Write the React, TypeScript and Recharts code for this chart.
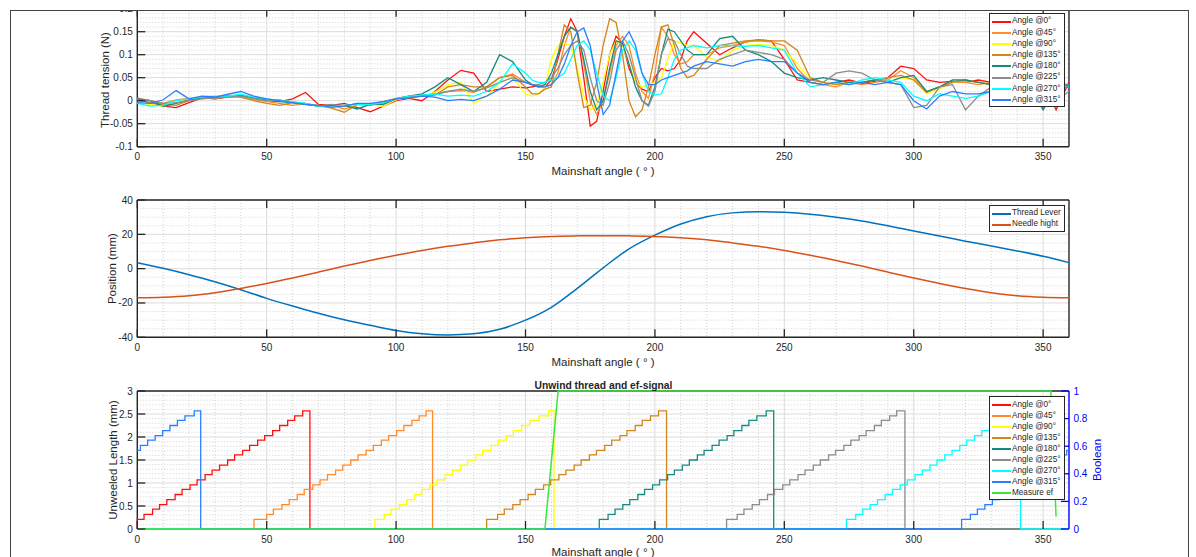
import { LineChart, Line, XAxis, YAxis, CartesianGrid } from "recharts";

const FONT = '"Liberation Sans", Arial, Helvetica, sans-serif';
const INK = "#262626";
const TICK = 8;

// shared x axis
const X_TICKS = [0, 50, 100, 150, 200, 250, 300, 350];
const X_MINOR = [10, 20, 30, 40, 60, 70, 80, 90, 110, 120, 130, 140, 160, 170, 180, 190, 210, 220, 230, 240, 260, 270, 280, 290, 310, 320, 330, 340];

// ---- plot 1: thread tension ----
const T_TICKS = [-0.1, -0.05, 0, 0.05, 0.1, 0.15, 0.2];
const T_MINOR = [-0.09, -0.08, -0.07, -0.06, -0.04, -0.03, -0.02, -0.01, 0.01, 0.02, 0.03, 0.04, 0.06, 0.07, 0.08, 0.09, 0.11, 0.12, 0.13, 0.14, 0.16, 0.17, 0.18, 0.19];

const ANGLES = [
  0, 5, 10, 15, 20, 25, 30, 35, 40, 45, 50, 55, 60, 65, 70, 75, 80, 85, 90, 95, 100, 105, 110, 115, 120, 125, 130, 135, 140, 145, 150,
  152.5, 155, 157.5, 160, 162.5, 165, 167.5, 170, 172.5, 175, 177.5, 180, 182.5, 185, 187.5, 190, 192.5, 195, 197.5, 200, 202.5, 205, 207.5, 210, 212.5, 215,
  220, 225, 230, 235, 240, 245, 250, 255, 260, 265, 270, 275, 280, 285, 290, 295, 300, 305, 310, 315, 320, 325, 330, 335, 340, 345, 350, 355, 360,
];

const TENSION_0 = [
  0.002, -0.004, -0.012, -0.015, -0.004, 0.006, 0.004, 0.008, 0.01, 0.005, 0, -0.002, 0.004, 0.018, -0.008, -0.01, -0.006, -0.015, -0.024, -0.012, 0, 0.005, 0, 0.02, 0.045, 0.066, 0.06, 0.02, 0.025, 0.03, 0.028,
  0.03, 0.032, 0.03, 0.045, 0.09, 0.14, 0.178, 0.15, 0.05, -0.055, -0.045, 0.02, 0.1, 0.14, 0.125, 0.07, 0.04, 0.025, 0.02, 0.05, 0.07, 0.065, 0.07, 0.09, 0.13, 0.15,
  0.125, 0.1, 0.115, 0.128, 0.132, 0.13, 0.09, 0.045, 0.04, 0.035, 0.04, 0.045, 0.038, 0.042, 0.05, 0.075, 0.07, 0.045, 0.04, 0.042, 0.04, 0.045, 0.04, 0.045, 0.05, 0.04, 0.045, -0.02, 0.04,
];
const TENSION_45 = [
  0.004, 0, -0.006, 0.002, 0.005, 0.008, 0.004, 0.01, 0.008, 0.003, -0.002, -0.006, -0.01, -0.006, -0.012, -0.01, -0.018, -0.01, -0.008, -0.004, 0.004, 0.006, 0.01, 0.015, 0.02, 0.022, 0.018, 0.03, 0.05, 0.058, 0.04,
  0.035, 0.03, 0.03, 0.035, 0.06, 0.12, 0.16, 0.15, 0.08, 0, -0.03, 0, 0.06, 0.12, 0.14, 0.12, 0.06, 0.02, 0.005, 0.06, 0.16, 0.14, 0.1, 0.08, 0.085, 0.1,
  0.1, 0.115, 0.12, 0.128, 0.13, 0.128, 0.12, 0.07, 0.04, 0.035, 0.03, 0.04, 0.035, 0.04, 0.045, 0.065, 0.05, 0.02, 0.03, 0.04, 0.04, 0.035, 0.04, 0.035, 0.04, 0.035, 0.03, 0.04, 0.035,
];
const TENSION_90 = [
  -0.004, -0.008, -0.012, -0.006, 0.004, 0.008, 0.006, 0.012, 0.01, 0.004, 0.002, 0, -0.004, -0.008, -0.01, -0.014, -0.012, -0.01, -0.008, -0.012, 0.002, 0.008, 0.01, 0.018, 0.035, 0.04, -0.006, 0.01, 0.04, 0.05, 0.015,
  0.01, 0.015, 0.03, 0.09, 0.12, 0.125, 0.12, 0.07, 0.01, -0.02, -0.01, 0.04, 0.1, 0.13, 0.12, 0.08, 0.04, 0.03, 0.035, 0.04, 0.05, 0.09, 0.13, 0.125, 0.12, 0.12,
  0.095, 0.085, 0.11, 0.12, 0.122, 0.12, 0.11, 0.08, 0.045, 0.04, 0.035, 0.04, 0.04, 0.045, 0.04, 0.05, 0.045, 0.015, 0.025, 0.04, 0.045, 0.04, 0.035, 0.04, 0.035, 0.03, 0.035, 0.03, 0.035,
];
const TENSION_135 = [
  0, -0.004, -0.008, -0.01, 0, 0.006, 0.005, 0.01, 0.008, 0, -0.006, -0.01, -0.004, -0.008, -0.01, -0.016, -0.025, -0.008, -0.008, -0.002, 0.005, 0.01, 0.01, 0.012, 0.03, 0.035, 0.03, 0.03, 0.05, 0.055, 0.03,
  0.015, 0.015, 0.025, 0.03, 0.1, 0.165, 0.15, 0.06, -0.015, -0.01, 0.04, 0.12, 0.178, 0.17, 0.1, 0, -0.035, -0.02, 0.03, 0.1, 0.16, 0.165, 0.12, 0.07, 0.05, 0.055,
  0.09, 0.12, 0.125, 0.13, 0.132, 0.13, 0.13, 0.11, 0.05, 0.04, 0.035, 0.04, 0.04, 0.045, 0.05, 0.055, 0.045, 0.018, 0.03, 0.04, 0.045, 0.04, 0.035, 0.04, 0.03, 0.035, 0.04, 0.03, 0.035,
];
const TENSION_180 = [
  0.004, 0, -0.012, -0.006, 0.002, 0.006, 0.008, 0.01, 0.012, 0.006, 0.002, -0.002, -0.004, -0.008, -0.012, -0.01, -0.01, -0.018, -0.008, -0.008, 0.004, 0.01, 0.015, 0.03, 0.05, 0.035, 0.02, 0.04, 0.1, 0.085, 0.045,
  0.035, 0.03, 0.035, 0.06, 0.1, 0.14, 0.16, 0.15, 0.09, 0.02, -0.02, 0, 0.07, 0.13, 0.125, 0.08, 0.03, 0, -0.01, 0.03, 0.1, 0.155, 0.15, 0.13, 0.11, 0.1,
  0.1, 0.135, 0.14, 0.11, 0.1, 0.085, 0.06, 0.05, 0.045, 0.05, 0.045, 0.04, 0.04, 0.045, 0.04, 0.05, 0.055, 0.02, 0.03, 0.045, 0.045, 0.04, 0.035, 0.04, 0.035, 0.03, -0.02, 0.03, 0.035,
];
const TENSION_225 = [
  0.006, 0, -0.006, -0.004, 0, 0.004, 0.006, 0.008, 0.01, 0.004, 0, 0.002, -0.004, -0.006, -0.012, -0.008, -0.012, -0.006, -0.01, -0.004, 0.004, 0.008, 0.012, 0.014, 0.02, 0.025, 0.02, 0.028, 0.04, 0.05, 0.04,
  0.035, 0.035, 0.04, 0.05, 0.07, 0.1, 0.12, 0.13, 0.11, 0.05, 0, -0.01, 0.04, 0.11, 0.13, 0.1, 0.05, 0, -0.012, 0.02, 0.1, 0.135, 0.13, 0.1, 0.075, 0.07,
  0.07, 0.09, 0.1, 0.11, 0.105, 0.1, 0.09, 0.06, 0.045, 0.04, 0.06, 0.065, 0.06, 0.045, 0.04, 0.035, -0.015, -0.01, 0.03, 0.035, -0.02, 0.01, 0.03, 0.03, 0.025, 0.02, 0.03, 0, 0.02,
];
const TENSION_270 = [
  -0.006, -0.012, -0.01, 0, 0.004, 0.008, 0.01, 0.01, 0.014, 0.008, 0.004, 0, -0.002, -0.006, -0.012, -0.014, -0.01, -0.008, -0.008, -0.004, 0.004, 0.01, 0.012, 0.015, 0.01, 0.012, 0.01, 0.02, 0.04, 0.08, 0.06,
  0.045, 0.04, 0.04, 0.045, 0.05, 0.06, 0.09, 0.12, 0.13, 0.11, 0.06, 0.01, 0, 0.05, 0.11, 0.13, 0.11, 0.06, 0.02, 0.012, 0.015, 0.05, 0.09, 0.11, 0.115, 0.12,
  0.115, 0.12, 0.12, 0.118, 0.12, 0.115, 0.11, 0.06, 0.03, 0.035, 0.04, 0.035, 0.045, 0.05, 0.045, 0.04, 0.01, 0, 0.015, 0.01, 0.005, 0.01, 0.02, 0.025, 0.03, 0.025, 0.03, 0.025, 0.03,
];
const TENSION_315 = [
  -0.004, -0.006, 0.002, 0.022, 0.004, 0.01, 0.008, 0.014, 0.02, 0.01, 0.004, 0, -0.004, -0.008, -0.01, -0.014, -0.012, -0.006, -0.006, -0.002, 0.004, 0.006, 0.01, 0.008, 0, 0.003, 0, 0.01, 0.025, 0.045, 0.04,
  0.035, 0.03, 0.03, 0.035, 0.05, 0.08, 0.12, 0.15, 0.158, 0.12, 0.04, -0.03, -0.01, 0.06, 0.13, 0.15, 0.12, 0.06, 0.035, 0.035, 0.045, 0.05, 0.055, 0.06, 0.065, 0.075,
  0.085, 0.08, 0.075, 0.085, 0.09, 0.085, 0.085, 0.06, 0.04, 0.035, 0.04, 0.035, 0.04, 0.035, 0.04, 0.035, 0, -0.018, 0.01, 0.02, 0.015, 0.015, 0.02, 0.025, 0.02, 0.03, -0.015, 0.025, 0.03,
];

const ANGLE_SERIES = [
  { key: "s0", name: "Angle @0°", color: "#FF1010", values: TENSION_0 },
  { key: "s45", name: "Angle @45°", color: "#FF8C2A", values: TENSION_45 },
  { key: "s90", name: "Angle @90°", color: "#FFFF00", values: TENSION_90 },
  { key: "s135", name: "Angle @135°", color: "#D0871C", values: TENSION_135 },
  { key: "s180", name: "Angle @180°", color: "#168A80", values: TENSION_180 },
  { key: "s225", name: "Angle @225°", color: "#8C8C8C", values: TENSION_225 },
  { key: "s270", name: "Angle @270°", color: "#00FFFF", values: TENSION_270 },
  { key: "s315", name: "Angle @315°", color: "#2A7FFF", values: TENSION_315 },
];

// ---- plot 2: position ----
const P_TICKS = [-40, -20, 0, 20, 40];
const P_MINOR = [-35, -30, -25, -15, -10, -5, 5, 10, 15, 25, 30, 35];
const POS_ANGLES = [0, 10, 20, 30, 40, 50, 60, 70, 80, 90, 100, 110, 120, 130, 140, 150, 160, 170, 180, 190, 200, 210, 220, 230, 240, 250, 260, 270, 280, 290, 300, 310, 320, 330, 340, 350, 360];
const THREAD_LEVER = [3.5, 0.2, -3.5, -7.6, -12.3, -17.3, -21.8, -26, -29.8, -33, -36, -37.9, -38.6, -38, -35.3, -30, -22.5, -11.5, 0.5, 11.5, 19.5, 26, 30.3, 32.5, 33.2, 32.8, 31.7, 30, 27.8, 25, 21.9, 19, 16, 13.2, 10.3, 7.2, 3.5];
const NEEDLE_HIGHT = [-17, -16.7, -15.8, -14, -11.5, -8.6, -5.4, -2, 1.5, 4.8, 7.8, 10.6, 13, 15, 16.8, 18, 18.8, 19.1, 19.2, 19.1, 18.8, 18, 16.8, 15, 13, 10.6, 7.8, 4.8, 1.5, -2, -5.4, -8.6, -11.5, -14, -15.8, -16.7, -17];

// ---- plot 3: unwind thread ----
const U_TICKS = [0, 0.5, 1, 1.5, 2, 2.5, 3];
const U_MINOR = [0.1, 0.2, 0.3, 0.4, 0.6, 0.7, 0.8, 0.9, 1.1, 1.2, 1.3, 1.4, 1.6, 1.7, 1.8, 1.9, 2.1, 2.2, 2.3, 2.4, 2.6, 2.7, 2.8, 2.9];
const B_TICKS = [0, 0.2, 0.4, 0.6, 0.8, 1];

const LEVELS = [0.21, 0.32, 0.43, 0.53, 0.64, 0.75, 0.86, 0.96, 1.07, 1.18, 1.28, 1.39, 1.5, 1.61, 1.71, 1.82, 1.93, 2.03, 2.14, 2.25, 2.36, 2.46, 2.57];

const STEPS_0 = [0, 2.6, 5.9, 8.6, 11.4, 14.6, 17.3, 20.4, 23.1, 26.2, 28.9, 31.8, 34.9, 37.6, 40.7, 43.4, 46.5, 49.2, 52.3, 55.0, 58.1, 60.8, 63.9];
const STEPS_45 = [45.1, 50.0, 52.6, 55.9, 58.7, 61.8, 64.5, 67.8, 70.6, 73.5, 76.6, 79.4, 82.5, 85.3, 88.4, 91.2, 94.3, 97.1, 100.2, 103.0, 106.1, 108.9, 111.6];
const STEPS_90 = [91.8, 95.4, 98.0, 101.3, 104.1, 107.2, 109.9, 113.1, 115.8, 119.0, 121.7, 124.9, 127.6, 130.8, 133.5, 136.7, 139.4, 142.6, 145.3, 148.5, 151.6, 155.2, 158.9];
const STEPS_135 = [135.0, 139.2, 141.8, 145.1, 147.9, 151.0, 153.8, 157.0, 159.7, 162.9, 165.6, 168.8, 171.5, 174.7, 177.4, 180.6, 183.3, 186.5, 189.2, 192.4, 195.1, 198.3, 201.4];
const STEPS_180 = [178.5, 181.9, 184.6, 187.6, 190.3, 193.4, 196.0, 199.1, 201.8, 204.9, 207.5, 210.6, 213.3, 216.4, 219.0, 222.1, 224.8, 227.9, 230.5, 233.6, 236.3, 239.4, 243.0];
const STEPS_225 = [227.7, 231.8, 234.4, 237.6, 240.4, 243.5, 246.2, 249.4, 252.1, 255.3, 258.0, 261.2, 263.9, 267.1, 269.8, 273.0, 275.7, 278.9, 281.6, 284.8, 287.5, 290.7, 293.4];
const STEPS_270 = [274.0, 277.6, 280.3, 283.2, 286.0, 289.0, 291.8, 294.8, 297.5, 300.5, 303.3, 306.3, 309.0, 312.0, 314.8, 317.8, 320.5, 323.5, 326.3, 329.3, 332.0, 335.0, 338.2];
// 315 wraps round 360: tail holds levels 0..14, head levels 15..22
const STEPS_315_TAIL = [318.5, 321.9, 324.6, 327.5, 330.4, 333.3, 336.1, 339.0, 341.9, 344.7, 347.6, 350.5, 353.3, 356.2, 359.1];
const STEPS_315_HEAD = [1.2, 4.0, 6.9, 9.8, 12.6, 15.5, 18.4, 22.0];
const DROPS = { s0: 66.7, s45: 114.1, s90: 161.0, s135: 204.5, s180: 245.9, s225: 296.6, s270: 341.3, s315: 24.5 };

const EF_ANGLES = [0, 157.5, 162.6, 353, 355];
const EF_VALUES = [0, 0, 1, 1, 0.09];

type Pt = { a: number; v: number };

function ramp(steps: number[], drop: number): Pt[] {
  return [
    { a: 0, v: 0 },
    ...steps.map((a, i) => ({ a, v: LEVELS[i] })),
    { a: drop, v: 0 },
    { a: 360, v: 0 },
  ];
}

function wrappedRamp(): Pt[] {
  const n = STEPS_315_TAIL.length;
  return [
    { a: 0, v: LEVELS[n - 1] },
    ...STEPS_315_HEAD.map((a, i) => ({ a, v: LEVELS[n + i] })),
    { a: DROPS.s315, v: 0 },
    ...STEPS_315_TAIL.map((a, i) => ({ a, v: LEVELS[i] })),
    { a: 360, v: LEVELS[n - 1] },
  ];
}

const UNWIND: Record<string, Pt[]> = {
  s0: ramp(STEPS_0, DROPS.s0),
  s45: ramp(STEPS_45, DROPS.s45),
  s90: ramp(STEPS_90, DROPS.s90),
  s135: ramp(STEPS_135, DROPS.s135),
  s180: ramp(STEPS_180, DROPS.s180),
  s225: ramp(STEPS_225, DROPS.s225),
  s270: ramp(STEPS_270, DROPS.s270),
  s315: wrappedRamp(),
};

const tensionRows = ANGLES.map((a, i) => {
  const row: Record<string, number> = { a };
  ANGLE_SERIES.forEach((s) => (row[s.key] = s.values[i]));
  return row;
});
const positionRows = POS_ANGLES.map((a, i) => ({ a, lever: THREAD_LEVER[i], needle: NEEDLE_HIGHT[i] }));
const efRows = EF_ANGLES.map((a, i) => ({ a, v: EF_VALUES[i] }));

// ---- ticks (inward, MATLAB style) ----
const bottomTick = (p: any) => (
  <g>
    <line x1={p.x} y1={p.y} x2={p.x} y2={p.y - TICK} stroke={INK} strokeWidth={1.3} />
    <text x={p.x} y={p.y + 13.5} textAnchor="middle" fontSize={10} fill={INK}>
      {p.payload.value}
    </text>
  </g>
);
const topTick = (p: any) => <line x1={p.x} y1={p.y} x2={p.x} y2={p.y + TICK} stroke={INK} strokeWidth={1.3} />;
const leftTick = (p: any) => (
  <g>
    <line x1={p.x} y1={p.y} x2={p.x + TICK} y2={p.y} stroke={INK} strokeWidth={1.3} />
    <text x={p.x - 4.5} y={p.y + 3.5} textAnchor="end" fontSize={10} fill={INK}>
      {p.payload.value}
    </text>
  </g>
);
const rightTick = (color: string, withLabel: boolean) => (p: any) => (
  <g>
    <line x1={p.x} y1={p.y} x2={p.x - TICK} y2={p.y} stroke={color} strokeWidth={1.3} />
    {withLabel && (
      <text x={p.x + 4.5} y={p.y + 3.5} textAnchor="start" fontSize={10} fill={color}>
        {p.payload.value}
      </text>
    )}
  </g>
);

const axisLine = (color: string) => ({ stroke: color, strokeWidth: 1.4 });

// axes get a 1px band (an axis with zero size is not drawn); margins are reduced to match
function Frame({ yTicks, yMinor, yDomain, rightColor, rightTicks, rightDomain, rightLabels }: any) {
  return [
    <CartesianGrid key="gmin" xAxisId="b" yAxisId="l" verticalValues={X_MINOR} horizontalValues={yMinor} stroke="#C6C6C6" strokeWidth={0.8} strokeDasharray="1 2" />,
    <CartesianGrid key="gmaj" xAxisId="b" yAxisId="l" verticalValues={X_TICKS} horizontalValues={yTicks} stroke="#DCDCDC" strokeWidth={1} />,
    <XAxis key="xb" xAxisId="b" type="number" dataKey="a" domain={[0, 360]} ticks={X_TICKS} interval={0} height={1} tickSize={0} tickMargin={0} tickLine={false} axisLine={axisLine(INK)} tick={bottomTick} />,
    <XAxis key="xt" xAxisId="t" orientation="top" type="number" dataKey="a" domain={[0, 360]} ticks={X_TICKS} interval={0} height={1} tickSize={0} tickMargin={0} tickLine={false} axisLine={axisLine(INK)} tick={topTick} />,
    <YAxis key="yl" yAxisId="l" type="number" domain={yDomain} ticks={yTicks} interval={0} width={1} tickSize={0} tickMargin={0} tickLine={false} axisLine={axisLine(INK)} tick={leftTick} />,
    <YAxis key="yr" yAxisId="r" orientation="right" type="number" domain={rightDomain} ticks={rightTicks} interval={0} width={1} tickSize={0} tickMargin={0} tickLine={false} axisLine={axisLine(rightColor)} tick={rightTick(rightColor, rightLabels)} />,
  ];
}

function LegendBox({ left, top, padTop, rowH, items }: { left: number; top: number; padTop: number; rowH: number; items: { name: string; color: string }[] }) {
  return (
    <div
      style={{
        position: "absolute",
        left,
        top,
        width: 76,
        boxSizing: "border-box",
        border: `1px solid ${INK}`,
        background: "#fff",
        paddingTop: padTop,
        paddingBottom: 0.5,
        zIndex: 3,
      }}
    >
      {items.map((it) => (
        <div key={it.name} style={{ height: rowH, display: "flex", alignItems: "center" }}>
          <div style={{ width: 19, height: 2, background: it.color, marginLeft: 2, marginRight: 1, flex: "none" }} />
          <span style={{ fontSize: 8.2, lineHeight: 1, color: INK, whiteSpace: "nowrap" }}>{it.name}</span>
        </div>
      ))}
    </div>
  );
}

const X_TITLE = "Mainshaft angle ( ° )";

export default function App() {
  const left = 137.3 - 1;
  const right = 1196 - 1069 - 1;
  return (
    <div style={{ position: "fixed", left: 0, top: 0, width: 1196, height: 557, overflow: "hidden", background: "#fff", fontFamily: FONT }}>
      {/* plot 1 */}
      <div style={{ position: "absolute", left: 0, top: 0, zIndex: 1 }}>
        <LineChart width={1196} height={185} data={tensionRows} margin={{ top: 8.7 - 1, right, bottom: 38.3 - 1, left }}>
          {Frame({ yTicks: T_TICKS, yMinor: T_MINOR, yDomain: [-0.1, 0.2], rightColor: INK, rightTicks: T_TICKS, rightDomain: [-0.1, 0.2], rightLabels: false })}
          {ANGLE_SERIES.map((s) => (
            <Line key={s.key} xAxisId="b" yAxisId="l" type="linear" dataKey={s.key} stroke={s.color} strokeWidth={1.3} dot={false} isAnimationActive={false} zIndex={600} />
          ))}
        </LineChart>
      </div>

      {/* plot 2 */}
      <div style={{ position: "absolute", left: 0, top: 185, zIndex: 1 }}>
        <LineChart width={1196} height={190} data={positionRows} margin={{ top: 15 - 1, right, bottom: 37.7 - 1, left }}>
          {Frame({ yTicks: P_TICKS, yMinor: P_MINOR, yDomain: [-40, 40], rightColor: INK, rightTicks: P_TICKS, rightDomain: [-40, 40], rightLabels: false })}
          <Line xAxisId="b" yAxisId="l" type="monotone" dataKey="lever" stroke="#0072BD" strokeWidth={1.5} dot={false} isAnimationActive={false} zIndex={600} />
          <Line xAxisId="b" yAxisId="l" type="monotone" dataKey="needle" stroke="#D95319" strokeWidth={1.5} dot={false} isAnimationActive={false} zIndex={600} />
        </LineChart>
      </div>

      {/* plot 3 */}
      <div style={{ position: "absolute", left: 0, top: 375, zIndex: 1 }}>
        <LineChart width={1196} height={182} margin={{ top: 16 - 1, right, bottom: 28 - 1, left }}>
          {Frame({ yTicks: U_TICKS, yMinor: U_MINOR, yDomain: [0, 3], rightColor: "#0000FF", rightTicks: B_TICKS, rightDomain: [0, 1], rightLabels: true })}
          {ANGLE_SERIES.map((s) => (
            <Line key={s.key} xAxisId="b" yAxisId="l" data={UNWIND[s.key]} type="stepAfter" dataKey="v" stroke={s.color} strokeWidth={1.3} dot={false} isAnimationActive={false} zIndex={600} />
          ))}
          <Line xAxisId="b" yAxisId="r" data={efRows} type="linear" dataKey="v" stroke="#3CE63C" strokeWidth={1.5} dot={false} isAnimationActive={false} zIndex={600} />
        </LineChart>
      </div>

      {/* axis titles */}
      <svg width={1196} height={557} style={{ position: "absolute", left: 0, top: 0, zIndex: 2, pointerEvents: "none" }}>
        <g fontSize={11.5} fill={INK} textAnchor="middle" dominantBaseline="central">
          <text transform="translate(105,80) rotate(-90)">Thread tension (N)</text>
          <text x={603} y={171}>{X_TITLE}</text>
          <text transform="translate(112,268.6) rotate(-90)">Position (mm)</text>
          <text x={603} y={361.6}>{X_TITLE}</text>
          <text transform="translate(113,460) rotate(-90)">Unweeled Length (mm)</text>
          <text x={603} y={552}>{X_TITLE}</text>
          <text transform="translate(1097,460) rotate(-90)" fill="#0000FF">Boolean</text>
          <text x={603.5} y={385} fontSize={10.3} fontWeight="bold">Unwind thread and ef-signal</text>
        </g>
      </svg>

      <LegendBox left={989} top={13} padTop={2} rowH={11.2} items={ANGLE_SERIES} />
      <LegendBox
        left={989}
        top={205}
        padTop={2}
        rowH={11}
        items={[
          { name: "Thread Lever", color: "#0072BD" },
          { name: "Needle hight", color: "#D95319" },
        ]}
      />
      <LegendBox left={989} top={396} padTop={2.5} rowH={11.05} items={[...ANGLE_SERIES, { name: "Measure ef", color: "#3CE63C" }]} />

      {/* crop mask + outer figure frame */}
      <div style={{ position: "absolute", left: 0, top: 0, width: 1196, height: 10, background: "#fff", zIndex: 4 }} />
      <div style={{ position: "absolute", left: 10, top: 10, width: 1179, height: 600, boxSizing: "border-box", border: "1.2px solid #444", zIndex: 5, pointerEvents: "none" }} />
    </div>
  );
}
